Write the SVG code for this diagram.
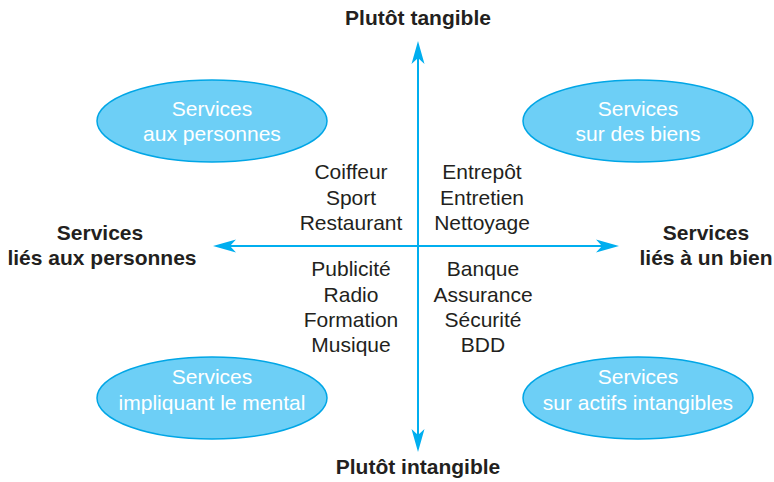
<svg xmlns="http://www.w3.org/2000/svg" width="774" height="482" viewBox="0 0 774 482">
<defs>
<style>
.ell{fill:#6dcff6;stroke:#00a6e6;stroke-width:1.5}
.et{font-family:"Liberation Sans",Arial,sans-serif;font-size:21px;fill:#ffffff;text-anchor:middle}
.t{font-family:"Liberation Sans",Arial,sans-serif;font-size:21px;fill:#231f20;text-anchor:middle}
.b{font-family:"Liberation Sans",Arial,sans-serif;font-size:21px;font-weight:bold;fill:#231f20;text-anchor:middle}
.ax{stroke:#00aeef;stroke-width:2;fill:none}
</style>
<marker id="ah" viewBox="-24 -7 25 14" refX="0" refY="0" markerWidth="25" markerHeight="14" orient="auto-start-reverse" markerUnits="userSpaceOnUse">
<path d="M0,0 L-23,-6.5 L-17,0 L-23,6.5 Z" fill="#00aeef"/>
</marker>
</defs>
<rect width="774" height="482" fill="#ffffff"/>
<g id="connectors">
<line class="ax" x1="418" y1="50" x2="418" y2="443"/>
<line class="ax" x1="222" y1="246" x2="610" y2="246"/>
<line x1="418" y1="60" x2="418" y2="41" stroke="none" marker-end="url(#ah)"/>
<line x1="418" y1="430" x2="418" y2="452" stroke="none" marker-end="url(#ah)"/>
<line x1="235" y1="246" x2="213" y2="246" stroke="none" marker-end="url(#ah)"/>
<line x1="600" y1="246" x2="619" y2="246" stroke="none" marker-end="url(#ah)"/>
</g>
<g id="axis-top"><text class="b" x="418" y="25">Plutôt tangible</text></g>
<g id="axis-bottom"><text class="b" x="418" y="474">Plutôt intangible</text></g>
<g id="axis-left"><text class="b" x="100" y="240">Services</text><text class="b" x="102" y="265">liés aux personnes</text></g>
<g id="axis-right"><text class="b" x="706" y="240">Services</text><text class="b" x="706" y="265">liés à un bien</text></g>
<g id="node-tl"><ellipse class="ell" cx="212" cy="121" rx="115" ry="41"/><text class="et" x="212" y="116">Services</text><text class="et" x="212" y="141">aux personnes</text></g>
<g id="node-tr"><ellipse class="ell" cx="638" cy="121" rx="115" ry="41"/><text class="et" x="638" y="116">Services</text><text class="et" x="638" y="141">sur des biens</text></g>
<g id="node-bl"><ellipse class="ell" cx="212" cy="398" rx="115" ry="41"/><text class="et" x="212" y="384">Services</text><text class="et" x="212" y="410">impliquant le mental</text></g>
<g id="node-br"><ellipse class="ell" cx="638" cy="398" rx="115" ry="41"/><text class="et" x="638" y="384">Services</text><text class="et" x="638" y="410">sur actifs intangibles</text></g>
<g id="list-tl"><text class="t" x="351" y="179">Coiffeur</text><text class="t" x="351" y="205">Sport</text><text class="t" x="351" y="230">Restaurant</text></g>
<g id="list-tr"><text class="t" x="482" y="179">Entrepôt</text><text class="t" x="482" y="205">Entretien</text><text class="t" x="482" y="230">Nettoyage</text></g>
<g id="list-bl"><text class="t" x="351" y="276">Publicité</text><text class="t" x="351" y="302">Radio</text><text class="t" x="351" y="327">Formation</text><text class="t" x="351" y="352">Musique</text></g>
<g id="list-br"><text class="t" x="483" y="276">Banque</text><text class="t" x="483" y="302">Assurance</text><text class="t" x="483" y="327">Sécurité</text><text class="t" x="483" y="352">BDD</text></g>
</svg>
